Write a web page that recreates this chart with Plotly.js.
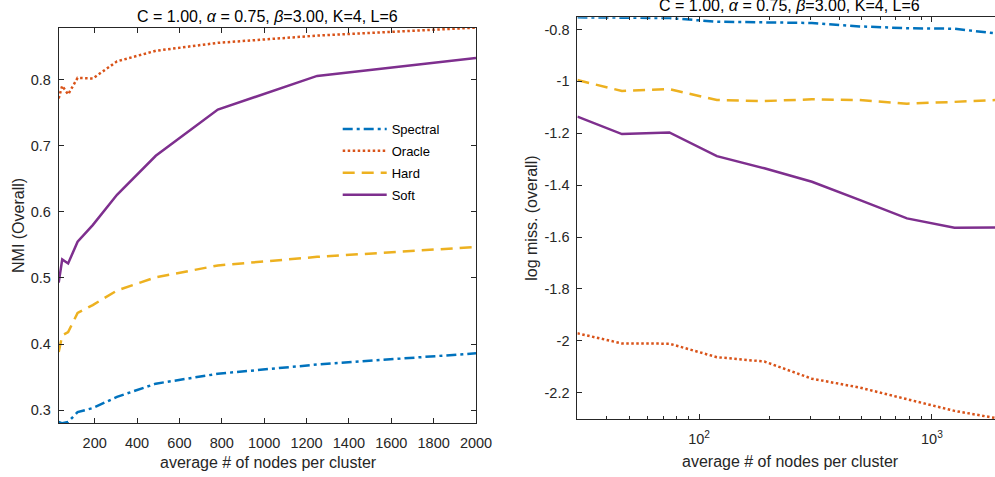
<!DOCTYPE html>
<html><head><meta charset="utf-8">
<script src="https://cdn.plot.ly/plotly-3.0.1.min.js"></script>
<style>html,body{margin:0;padding:0;overflow:hidden;background:#fff}#chart{width:1002px;height:477px}</style>
</head><body><div id="chart"></div><script>
const nodesPerCluster = [30, 46.6, 74.5, 119.2, 190.7, 305.2, 488.3, 781.3, 1250, 2000];
const seriesNames = ['Spectral', 'Oracle', 'Hard', 'Soft'];
const nmiSpectral = [0.282, 0.280, 0.282, 0.297, 0.303, 0.320, 0.340, 0.355, 0.369, 0.386];
const nmiOracle   = [0.772, 0.791, 0.778, 0.803, 0.802, 0.828, 0.844, 0.856, 0.867, 0.879];
const nmiHard     = [0.388, 0.413, 0.418, 0.447, 0.459, 0.481, 0.501, 0.519, 0.532, 0.547];
const nmiSoft     = [0.493, 0.528, 0.522, 0.555, 0.580, 0.626, 0.685, 0.755, 0.806, 0.833];
const missSpectral = [-0.753, -0.755, -0.756, -0.770, -0.773, -0.775, -0.788, -0.795, -0.797, -0.818];
const missOracle   = [-1.971, -2.010, -2.011, -2.063, -2.080, -2.146, -2.180, -2.225, -2.270, -2.302];
const missHard     = [-0.995, -1.037, -1.030, -1.072, -1.076, -1.069, -1.072, -1.086, -1.079, -1.071];
const missSoft     = [-1.136, -1.203, -1.197, -1.288, -1.335, -1.387, -1.457, -1.528, -1.564, -1.563];
const leftXTicks = [200, 400, 600, 800, 1000, 1200, 1400, 1600, 1800, 2000];
const leftYTicks = [0.3, 0.4, 0.5, 0.6, 0.7, 0.8];
const rightYTicks = [-2.2, -2, -1.8, -1.6, -1.4, -1.2, -1, -0.8];
const rightYLabels = ['-2.2', '-2', '-1.8', '-1.6', '-1.4', '-1.2', '-1', '-0.8'];
const rightXTicks = [100, 1000];
const rightXLabels = ['10<sup>2</sup>', '10<sup>3</sup>'];
const rightXMinor = [40, 50, 60, 70, 80, 90, 200, 300, 400, 500, 600, 700, 800, 900];
const titleText = 'C = 1.00, <i>α</i> = 0.75, <i>β</i>=3.00, K=4, L=6';

const colors = ['#0072BD', '#D95319', '#EDB120', '#7E2F8E'];
const dashes = ['10px,4px,3px,4px', '2.5px,2.5px', '12px,7px', 'solid'];
const W = 1002, H = 477;
const FONT = 'Liberation Sans, Arial, Helvetica, sans-serif';
const AX = '#262626';

const nmi = [nmiSpectral, nmiOracle, nmiHard, nmiSoft];
const miss = [missSpectral, missOracle, missHard, missSoft];
const traces = [];
nmi.forEach((ys, i) => traces.push({
  x: nodesPerCluster, y: ys, type: 'scatter', mode: 'lines', name: seriesNames[i],
  legendgroup: seriesNames[i], xaxis: 'x', yaxis: 'y',
  line: {color: colors[i], width: 2.5, dash: dashes[i]}
}));
miss.forEach((ys, i) => traces.push({
  x: nodesPerCluster, y: ys, type: 'scatter', mode: 'lines', name: seriesNames[i],
  legendgroup: seriesNames[i], showlegend: false, xaxis: 'x2', yaxis: 'y2',
  line: {color: colors[i], width: 2.5, dash: dashes[i]}
}));

const px = v => v / W, py = v => 1 - v / H;
const common = {
  showgrid: false, zeroline: false, showline: true, linecolor: AX, linewidth: 1,
  mirror: 'ticks', ticks: 'inside', ticklen: 5, tickcolor: AX, tickwidth: 1,
  tickfont: {family: FONT, size: 14.5, color: AX}
};
const layout = {
  width: W, height: H, margin: {l: 0, r: 0, t: 0, b: 0},
  paper_bgcolor: '#fff', plot_bgcolor: '#fff',
  font: {family: FONT, color: AX},
  showlegend: true,
  legend: {x: px(337.7), y: py(114), xanchor: 'left', yanchor: 'top', itemwidth: 44,
    font: {family: FONT, size: 13, color: '#000'}, bgcolor: 'rgba(0,0,0,0)', borderwidth: 0,
    tracegroupgap: 2},
  xaxis: Object.assign({}, common, {domain: [px(58.7), px(476)], range: [30, 2000],
    tickmode: 'array', tickvals: leftXTicks, ticklabelstandoff: 6, anchor: 'y'}),
  yaxis: Object.assign({}, common, {domain: [py(423.3), py(28)], range: [0.28, 0.8785],
    tickmode: 'array', tickvals: leftYTicks, ticklabelstandoff: 4, anchor: 'x'}),
  xaxis2: Object.assign({}, common, {domain: [px(577.4), 1], type: 'log',
    range: [Math.log10(30), Math.log10(2000)],
    tickmode: 'array', tickvals: rightXTicks, ticktext: rightXLabels, ticklabelstandoff: 6, anchor: 'y2',
    minor: {tickmode: 'array', tickvals: rightXMinor, ticks: 'inside', ticklen: 3, tickcolor: AX}}),
  yaxis2: Object.assign({}, common, {domain: [py(419.3), py(17.3)], range: [-2.3025, -0.753],
    tickmode: 'array', tickvals: rightYTicks, ticktext: rightYLabels, ticklabelstandoff: 4, anchor: 'x2'}),
  annotations: [
    {text: titleText, xref: 'paper', yref: 'paper', x: px(267.4), y: py(16), xanchor: 'center', yanchor: 'middle',
     showarrow: false, font: {family: FONT, size: 16, color: '#000'}},
    {text: titleText, xref: 'paper', yref: 'paper', x: px(789.7), y: py(5.3), xanchor: 'center', yanchor: 'middle',
     showarrow: false, font: {family: FONT, size: 16, color: '#000'}},
    {text: 'average # of nodes per cluster', xref: 'paper', yref: 'paper', x: px(268), y: py(462),
     xanchor: 'center', yanchor: 'middle', showarrow: false, font: {family: FONT, size: 16, color: AX}},
    {text: 'average # of nodes per cluster', xref: 'paper', yref: 'paper', x: px(790.8), y: py(461),
     xanchor: 'center', yanchor: 'middle', showarrow: false, font: {family: FONT, size: 16, color: AX}},
    {text: 'NMI (Overall)', xref: 'paper', yref: 'paper', x: px(18.3), y: py(225.7), textangle: -90,
     xanchor: 'center', yanchor: 'middle', showarrow: false, font: {family: FONT, size: 16, color: AX}},
    {text: 'log miss. (overall)', xref: 'paper', yref: 'paper', x: px(531.5), y: py(218.3), textangle: -90,
     xanchor: 'center', yanchor: 'middle', showarrow: false, font: {family: FONT, size: 16, color: AX}}
  ]
};
Plotly.newPlot('chart', traces, layout, {displayModeBar: false, staticPlot: true});
</script></body></html>
